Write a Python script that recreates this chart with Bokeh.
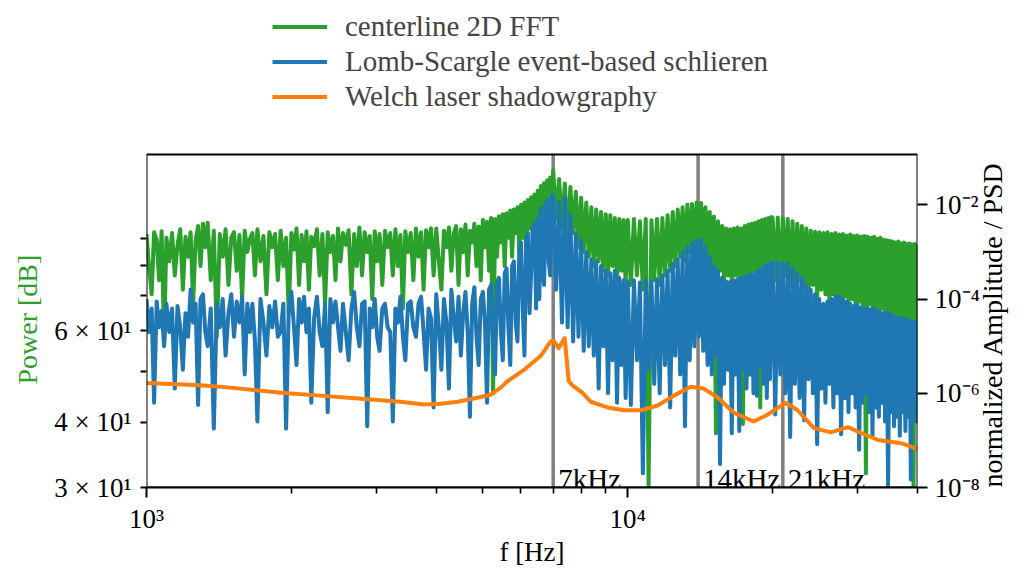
import numpy as np
from bokeh.plotting import figure
from bokeh.models import (LogAxis, Range1d, LogScale, FixedTicker, Legend, LegendItem,
                          Label, Title, BoxAnnotation, CustomJSTickFormatter)
from bokeh.embed import file_html
from bokeh.resources import INLINE

# ---------------- data ----------------
# frequency grid [Hz] shared by the FFT and Lomb-Scargle spectra
freq_hz = [
    1000, 1012, 1025, 1037, 1050, 1062, 1075, 1088, 1100, 1115,
    1130, 1145, 1160, 1175, 1190, 1205, 1220, 1235, 1250, 1265,
    1280, 1295, 1310, 1325, 1340, 1360, 1380, 1400, 1420, 1440,
    1460, 1480, 1500, 1520, 1540, 1560, 1580, 1600, 1620, 1640,
    1660, 1680, 1700, 1725, 1750, 1775, 1800, 1825, 1850, 1875,
    1900, 1925, 1950, 1975, 2000, 2025, 2050, 2075, 2100, 2125,
    2150, 2175, 2200, 2230, 2260, 2290, 2320, 2350, 2380, 2410,
    2440, 2470, 2500, 2530, 2560, 2595, 2630, 2665, 2700, 2735,
    2770, 2805, 2840, 2875, 2910, 2945, 2980, 3015, 3050, 3090,
    3130, 3170, 3210, 3250, 3290, 3330, 3370, 3410, 3450, 3495,
    3540, 3585, 3630, 3675, 3720, 3765, 3810, 3855, 3900, 3950,
    4000, 4050, 4100, 4150, 4200, 4250, 4300, 4350, 4400, 4450,
    4500, 4550, 4600, 4650, 4700, 4750, 4800, 4850, 4900, 4950,
    5000, 5050, 5100, 5150, 5200, 5250, 5300, 5350, 5400, 5450,
    5500, 5550, 5600, 5650, 5700, 5750, 5800, 5850, 5900, 5950,
    6000, 6050, 6100, 6150, 6200, 6250, 6300, 6350, 6400, 6450,
    6500, 6550, 6600, 6650, 6700, 6750, 6800, 6850, 6900, 6950,
    7000, 7100, 7200, 7300, 7400, 7500, 7600, 7700, 7800, 7900,
    8000, 8100, 8200, 8300, 8400, 8500, 8600, 8700, 8800, 8900,
    9000, 9100, 9200, 9300, 9400, 9500, 9600, 9700, 9800, 9900,
    10000, 10150, 10300, 10450, 10600, 10750, 10900, 11050, 11200, 11350,
    11500, 11650, 11800, 11950, 12100, 12250, 12400, 12550, 12700, 12850,
    13000, 13150, 13300, 13450, 13600, 13750, 13900, 14050, 14200, 14350,
    14500, 14650, 14800, 14950, 15100, 15250, 15400, 15550, 15700, 15850,
    16000, 16150, 16300, 16450, 16600, 16750, 16900, 17050, 17200, 17350,
    17500, 17650, 17800, 17950, 18100, 18250, 18400, 18550, 18700, 18850,
    19000, 19150, 19300, 19450, 19600, 19750, 19900,
    20000, 20250, 20500, 20750, 21000, 21250, 21500, 21750, 22000, 22250,
    22500, 22750, 23000, 23250, 23500, 23750, 24000, 24250, 24500, 24750,
    25000, 25250, 25500, 25750, 26000, 26250, 26500, 26750, 27000, 27250,
    27500, 27750, 28000, 28250, 28500, 28750, 29000, 29250, 29500, 29750,
    30000, 30250, 30500, 30750, 31000, 31250, 31500, 31750, 32000, 32250,
    32500, 32750, 33000, 33250, 33500, 33750, 34000, 34250, 34500, 34750,
    35000, 35250, 35500, 35750, 36000, 36250, 36500, 36750, 37000, 37250,
    37500, 37750, 38000, 38250, 38500, 38750, 39000, 39250, 39500, 39750,
    40000,
]

# log10 of normalized amplitude, centerline 2D FFT (green)
fft_log10 = [
    -2.62, -3.30, -3.90, -2.58, -2.75, -3.60, -2.56, -4.90, -2.70, -3.20,
    -2.60, -3.50, -2.85, -2.52, -3.80, -2.68, -3.10, -2.58, -4.10, -2.75,
    -2.45, -3.30, -2.40, -2.90, -2.38, -3.60, -2.55, -4.80, -2.62, -3.10,
    -2.52, -3.70, -2.70, -2.58, -3.40, -2.64, -4.00, -2.55, -3.00, -2.72,
    -2.60, -3.50, -2.52, -3.20, -2.66, -3.90, -2.58, -2.90, -2.62, -3.60,
    -2.55, -3.30, -2.70, -4.30, -2.60, -2.95, -2.50, -3.70, -2.64, -3.20,
    -2.56, -3.80, -2.68, -2.88, -2.52, -3.50, -2.62, -4.10, -2.58, -3.00,
    -2.66, -3.60, -2.50, -3.20, -2.60, -2.85, -2.54, -3.90, -2.62, -3.30,
    -2.48, -3.50, -2.58, -3.00, -2.66, -4.00, -2.56, -3.20, -2.62, -3.70,
    -2.55, -2.90, -2.60, -3.50, -2.52, -3.30, -2.64, -4.20, -2.56, -3.00,
    -2.60, -3.60, -2.50, -3.10, -2.58, -3.80, -2.54, -2.90, -2.50, -3.50,
    -2.50, -3.20, -3.80, -2.55, -2.90, -2.48, -3.40, -2.60, -2.45, -3.70,
    -2.52, -3.00, -2.42, -3.50, -2.55, -2.80, -2.40, -3.30, -2.46, -3.60,
    -2.32, -2.90, -2.36, -3.40, -2.28, -6.00, -2.30, -3.10, -2.24, -2.80,
    -2.20, -3.30, -2.18, -2.70, -2.12, -3.10, -2.10, -2.60, -2.05, -3.00,
    -2.00, -2.70, -1.95, -3.00, -1.90, -2.50, -1.84, -2.80, -1.78, -2.40,
    -1.70, -2.60, -1.60, -2.30, -1.54, -2.50, -1.48, -2.20, -1.42, -2.35,
    -1.27, -2.30, -1.45, -2.50, -1.55, -2.70, -1.62, -2.60, -1.72, -2.90,
    -1.85, -3.00, -1.95, -3.10, -2.05, -3.30, -2.10, -3.20, -2.15, -3.40,
    -2.20, -3.50, -2.22, -3.30, -2.28, -3.60, -2.30, -3.40, -2.32, -3.70,
    -2.32, -3.70, -2.30, -3.50, -2.35, -3.80, -2.30, -7.95, -2.33, -3.60,
    -2.30, -3.70, -2.28, -3.50, -2.22, -3.40, -2.15, -3.30, -2.10, -3.10,
    -2.05, -3.20, -2.00, -3.00, -1.98, -3.10, -1.95, -2.95, -1.96, -3.10,
    -2.05, -3.20, -2.15, -3.30, -2.25, -6.85, -2.35, -3.40, -2.45, -3.60,
    -2.50, -3.50, -2.52, -3.70, -2.50, -3.50, -2.48, -3.60, -2.50, -6.65,
    -2.45, -3.50, -2.42, -3.60, -2.40, -3.40, -2.38, -3.50, -2.35, -6.30,
    -2.32, -3.40, -2.30, -3.50, -2.28, -3.30, -2.26,
    -2.28, -3.60, -2.27, -3.80, -2.28, -3.50, -2.30, -3.70, -2.35, -3.90,
    -2.40, -3.60, -2.45, -3.80, -2.50, -3.90, -2.55, -3.70, -2.57, -4.00,
    -2.58, -3.80, -2.60, -3.90, -2.58, -4.10, -2.62, -3.90, -2.60, -4.00,
    -2.63, -4.10, -2.62, -3.95, -2.65, -4.10, -2.63, -4.00, -2.66, -4.20,
    -2.65, -4.05, -2.68, -4.20, -2.66, -7.70, -2.68, -4.10, -2.70, -4.30,
    -2.68, -4.20, -2.72, -4.30, -2.70, -4.20, -2.74, -4.35, -2.75, -4.25,
    -2.76, -4.40, -2.78, -4.30, -2.80, -4.40, -2.78, -4.35, -2.82, -4.45,
    -2.80, -4.40, -2.83, -4.50, -2.82, -4.45, -2.84, -7.98, -2.83, -4.48,
    -2.85,
]

# log10 of normalized amplitude, Lomb-Scargle event-based schlieren (blue)
lomb_log10 = [
    -4.00, -4.70, -4.20, -6.20, -4.05, -4.60, -4.25, -5.00, -4.10, -4.70,
    -4.20, -5.90, -4.15, -4.60, -5.50, -4.30, -4.80, -3.80, -4.50, -4.10,
    -6.25, -4.00, -3.90, -4.70, -5.00, -4.20, -6.75, -4.10, -4.60, -4.00,
    -5.20, -4.30, -3.90, -4.80, -4.05, -4.50, -3.95, -5.60, -4.10, -4.70,
    -4.10, -4.90, -6.60, -4.00, -4.50, -5.20, -4.15, -4.60, -4.05, -4.80,
    -4.70, -4.10, -6.75, -4.20, -3.85, -4.60, -5.40, -4.00, -4.50, -3.95,
    -4.70, -4.20, -6.20, -4.40, -3.95, -4.70, -5.00, -4.10, -6.40, -4.00,
    -4.50, -4.05, -4.60, -5.10, -4.10, -4.70, -5.30, -4.20, -3.85, -4.60,
    -5.00, -4.10, -4.05, -6.70, -4.20, -4.60, -4.00, -4.80, -5.10, -4.20,
    -4.10, -4.60, -4.70, -6.60, -4.20, -4.50, -3.95, -4.80, -5.30, -4.10,
    -4.05, -4.60, -4.80, -4.10, -3.95, -4.70, -5.50, -4.20, -4.40, -6.30,
    -3.90, -4.60, -5.50, -4.00, -4.50, -5.90, -3.80, -4.40, -4.90, -3.95,
    -5.20, -4.30, -3.85, -4.70, -6.50, -4.10, -3.75, -4.80, -5.40, -4.00,
    -3.85, -4.50, -6.20, -3.80, -3.70, -4.90, -5.60, -3.65, -3.55, -4.70,
    -5.30, -3.45, -3.35, -4.60, -5.40, -3.30, -3.20, -4.50, -4.90, -3.00,
    -2.80, -4.20, -5.20, -2.74, -2.60, -4.30, -3.40, -2.50, -2.40, -4.20,
    -2.30, -4.00, -2.07, -3.30, -3.70, -2.00, -1.90, -3.20, -3.50, -1.85,
    -1.79, -3.80, -1.95, -4.50, -1.84, -4.60, -2.20, -4.90, -2.60, -4.80,
    -2.75, -5.10, -3.00, -5.00, -3.16, -5.20, -3.20, -5.90, -3.30, -5.00,
    -3.40, -6.00, -3.45, -5.30, -3.40, -6.20, -3.55, -5.40, -3.60, -6.10,
    -3.62, -6.25, -3.60, -5.30, -3.65, -7.70, -3.60, -5.50, -3.62, -5.80,
    -3.58, -6.00, -3.50, -5.40, -3.40, -6.30, -3.25, -5.20, -3.15, -5.60,
    -3.00, -6.70, -2.90, -5.30, -2.82, -5.00, -2.76, -4.80, -2.74, -5.10,
    -2.90, -5.40, -3.10, -5.60, -3.30, -5.20, -3.40, -7.50, -3.55, -5.80,
    -3.62, -5.50, -3.64, -6.85, -3.60, -5.60, -3.58, -6.80, -3.55, -5.50,
    -3.52, -5.90, -3.50, -5.60, -3.48, -6.00, -3.45, -6.05, -3.40, -5.40,
    -3.35, -5.80, -3.30, -6.10, -3.25, -5.70, -3.22,
    -3.22, -6.45, -3.22, -5.60, -3.24, -6.00, -3.25, -6.93, -3.35, -5.80,
    -3.45, -6.10, -3.55, -6.57, -3.70, -5.70, -3.80, -6.00, -3.90, -7.08,
    -4.00, -5.90, -4.10, -6.20, -4.05, -5.80, -4.00, -6.30, -3.95, -6.00,
    -3.94, -6.87, -4.00, -6.10, -4.05, -6.40, -4.10, -6.00, -4.15, -6.30,
    -4.12, -7.20, -4.18, -6.20, -4.20, -6.00, -4.20, -6.40, -4.22, -6.90,
    -4.20, -6.30, -4.25, -6.50, -4.28, -6.20, -4.30, -6.60, -4.30, -7.98,
    -4.32, -6.40, -4.35, -6.70, -4.38, -6.50, -4.40, -6.90, -4.40, -6.40,
    -4.42, -6.80, -4.45, -6.50, -4.45, -7.83, -4.48, -6.20, -4.50, -6.60,
    -4.50,
]

# Welch laser shadowgraphy PSD (orange)
welch_hz = [1000, 1295, 1495, 1900, 2300, 2920, 3370, 3767, 4080, 4434,
            4786, 5190, 5445, 5630, 6077, 6590, 6918, 7000, 7187, 7396,
            7538, 7687, 8054, 8375, 9085, 9814, 10640, 11540, 12470, 13520,
            14380, 15380, 16600, 18270, 19540, 21290, 22540, 24370, 26430, 28650,
            30970, 33110, 36980, 39900]
welch_log10 = [-5.78, -5.83, -5.88, -5.99, -6.05, -6.13, -6.18, -6.24, -6.22, -6.18,
               -6.11, -6.03, -5.88, -5.74, -5.51, -5.21, -4.90, -4.88, -5.04, -4.83,
               -5.74, -5.84, -5.99, -6.18, -6.30, -6.36, -6.36, -6.26, -6.05, -5.86,
               -5.90, -6.09, -6.41, -6.60, -6.45, -6.20, -6.36, -6.74, -6.83, -6.72,
               -6.87, -6.99, -7.06, -7.18]

harmonics_hz = [7000, 14000, 21000]
harmonic_labels = ["7kHz", "14kHz", "21kHz"]

series_names = ["centerline 2D FFT", "Lomb-Scargle event-based schlieren",
                "Welch laser shadowgraphy"]
series_colors = ["#2ca02c", "#1f77b4", "#ff7f0e"]

# axes limits of the plotting box
x_min, x_max = 1000, 40000
amp_min, amp_max = 1e-8, 0.117          # right axis (normalized amplitude / PSD)
power_min = 30                          # left axis (Power [dB]) at the box bottom

x_major_ticks = [1000, 10000]
x_tick_labels = ["10\u00b3", "10\u2074"]
x_minor_ticks = [2000, 3000, 4000, 5000, 6000, 7000, 8000, 9000, 20000, 30000, 40000]

right_ticks = [1e-8, 1e-6, 1e-4, 1e-2]
right_tick_labels = ["10\u207b\u2078", "10\u207b\u2076", "10\u207b\u2074", "10\u207b\u00b2"]

power_ticks = [30, 40, 50, 60, 70, 80, 90]
power_tick_labels = ["3 \u00d7 10\u00b9", "4 \u00d7 10\u00b9", "", "6 \u00d7 10\u00b9", "", "", ""]

x_label = "f [Hz]"
left_label = "Power [dB]"
right_label = "normalized Amplitude / PSD"

# ---------------- figure ----------------
FONT = "Liberation Serif"
FS = "27px"

# The Bokeh frame reaches the top of the page so that the legend (drawn in the
# frame) is not clipped; the visible plotting box is drawn at the axis limits.
BOTTOM = 78
frame_h = 569 - BOTTOM
amp_px_per_decade = 47.5
power_px_per_decade = 525.4
amp_top = amp_min * 10 ** (frame_h / amp_px_per_decade)
power_top = power_min * 10 ** (frame_h / power_px_per_decade)

p = figure(width=1027, height=569, x_axis_type="log", y_axis_type="log",
           x_range=Range1d(x_min, x_max), y_range=Range1d(amp_min, amp_top),
           y_axis_location="right", output_backend="svg", toolbar_location=None,
           min_border_left=146, min_border_right=110, min_border_top=0,
           min_border_bottom=BOTTOM)
p.background_fill_color = "white"
p.border_fill_color = "white"
p.xgrid.visible = False
p.ygrid.visible = False
p.outline_line_color = None

p.extra_y_ranges = {"power": Range1d(power_min, power_top)}
p.extra_y_scales = {"power": LogScale()}


def fmt(vals, texts):
    return CustomJSTickFormatter(args=dict(tick_vals=vals, tick_text=texts), code="""
        for (let i = 0; i < tick_vals.length; i++) {
            if (Math.abs(tick - tick_vals[i]) <= 1e-6 * Math.abs(tick_vals[i])) return tick_text[i];
        }
        return "";
    """)


def style_axis(ax, major_len, minor_len=0):
    ax.major_label_text_font = FONT
    ax.major_label_text_font_size = FS
    ax.major_label_text_color = "black"
    ax.axis_label_text_font = FONT
    ax.axis_label_text_font_size = FS
    ax.axis_label_text_font_style = "normal"
    ax.axis_label_text_color = "black"
    ax.major_tick_in = 0
    ax.major_tick_out = major_len
    ax.minor_tick_in = 0
    ax.minor_tick_out = minor_len
    ax.axis_line_width = 2
    ax.major_tick_line_width = 2
    ax.minor_tick_line_width = 1.6
    ax.axis_line_color = "black"
    ax.major_tick_line_color = "black"
    ax.minor_tick_line_color = "black"


xax = p.xaxis[0]
xax.ticker = FixedTicker(ticks=x_major_ticks, minor_ticks=x_minor_ticks)
xax.formatter = fmt(x_major_ticks, x_tick_labels)
xax.axis_label = x_label
style_axis(xax, 10, 6)
xax.major_label_standoff = 6
xax.axis_label_standoff = 0

rax = p.yaxis[0]
rax.ticker = FixedTicker(ticks=right_ticks, minor_ticks=[])
rax.formatter = fmt(right_ticks, right_tick_labels)
style_axis(rax, 10, 0)
rax.axis_line_color = None
rax.major_label_standoff = 7

lax = LogAxis(y_range_name="power", ticker=FixedTicker(ticks=power_ticks, minor_ticks=[]),
              formatter=fmt(power_ticks, power_tick_labels))
style_axis(lax, 6, 0)
lax.axis_line_color = None
lax.major_label_standoff = 9
p.add_layout(lax, "left")

# left axis title, beside the axis and centred on the plotting box
left_title = Title(text=left_label, align="left", offset=103, standoff=17,
                   text_font=FONT, text_font_size="28px", text_font_style="normal",
                   text_color=series_colors[0])
p.add_layout(left_title, "left")

# right axis title, reading upwards from the bottom of the plotting box
right_done = False
rprops = rax.properties()
if "axis_label_orientation" in rprops and "axis_label_align" in rprops:
    try:
        rax.axis_label = right_label
        rax.axis_label_text_font_size = "28px"
        rax.axis_label_standoff = 10
        rax.axis_label_orientation = np.pi / 2
        rax.axis_label_align = "start"
        right_done = True
    except Exception:
        rax.axis_label = None
        right_done = False
if not right_done:
    right_title = Title(text=right_label, align="left", offset=168, standoff=6,
                        text_font=FONT, text_font_size="28px", text_font_style="normal",
                        text_color="black")
    p.add_layout(right_title, "right")

# harmonic marker lines (under the spectra)
p.segment(x0=harmonics_hz, y0=[amp_min] * 3, x1=harmonics_hz, y1=[amp_max] * 3,
          line_color="gray", line_width=3.5)

f_arr = np.array(freq_hz, dtype=float)
r_fft = p.line(f_arr, 10.0 ** np.array(fft_log10), line_color=series_colors[0],
               line_width=4, line_join="round")
r_lomb = p.line(f_arr, 10.0 ** np.array(lomb_log10), line_color=series_colors[1],
                line_width=4, line_join="round")
r_welch = p.line(np.array(welch_hz, dtype=float), 10.0 ** np.array(welch_log10),
                 line_color=series_colors[2], line_width=4, line_join="round")

for fh, txt in zip(harmonics_hz, harmonic_labels):
    p.add_layout(Label(x=fh, y=1.55e-8, text=txt, x_offset=5, text_baseline="alphabetic",
                       text_align="left", text_font=FONT, text_font_size="29px",
                       text_color="black"))

# plotting box (all four spines)
p.add_layout(BoxAnnotation(left=x_min, right=x_max, bottom=amp_min, top=amp_max,
                           fill_alpha=0, line_color="black", line_width=2, line_alpha=1))

legend = Legend(items=[LegendItem(label=series_names[0], renderers=[r_fft]),
                       LegendItem(label=series_names[1], renderers=[r_lomb]),
                       LegendItem(label=series_names[2], renderers=[r_welch])],
                location=(126, frame_h - 117))
legend.label_text_font = FONT
legend.label_text_font_size = "29px"
legend.glyph_width = 55
legend.glyph_height = 31
legend.label_height = 31
legend.label_standoff = 18
legend.spacing = 2
legend.padding = 0
legend.margin = 0
legend.border_line_alpha = 0
legend.background_fill_alpha = 0
p.add_layout(legend)

open("out.html", "w").write(file_html(p, INLINE))
